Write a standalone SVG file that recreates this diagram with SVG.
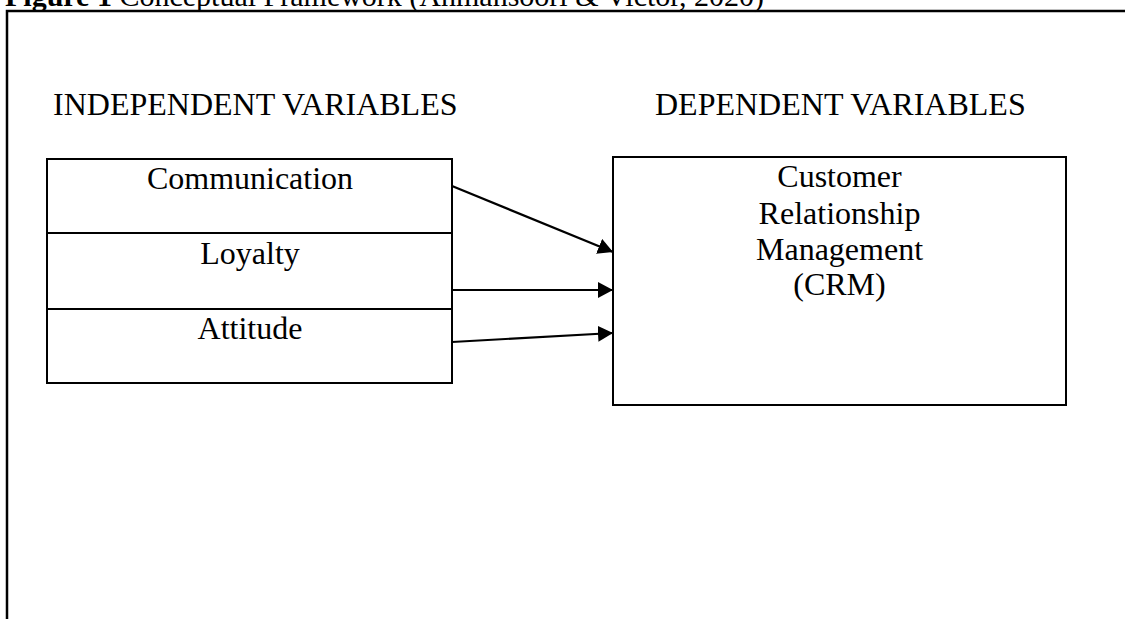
<svg xmlns="http://www.w3.org/2000/svg" width="1125" height="619" viewBox="0 0 1125 619">
<style>
text{font-family:"Liberation Serif","Times New Roman",serif;fill:#000;}
.t{font-size:32px;}
.c{text-anchor:middle;}
.box{fill:#fff;stroke:#000;stroke-width:2;}
.conn{stroke:#000;stroke-width:2.2;fill:none;marker-end:url(#ah);}
</style>
<defs>
<marker id="ah" markerUnits="userSpaceOnUse" markerWidth="16" markerHeight="16" refX="15" refY="8" orient="auto" viewBox="0 0 16 16">
<path d="M0,0 L15,8 L0,16 Z" fill="#000"/>
</marker>
</defs>
<rect width="1125" height="619" fill="#fff"/>
<text x="5" y="6" style="font-size:30px"><tspan font-weight="bold">Figure 1</tspan> Conceptual Framework (Ahmansoori &amp; Victor, 2020)</text>
<path d="M7,619 V11 H1125" fill="none" stroke="#000" stroke-width="2.5"/>
<text class="t" x="53" y="115">INDEPENDENT VARIABLES</text>
<text class="t" x="655" y="115">DEPENDENT VARIABLES</text>
<g id="independent">
<rect class="box" x="47" y="159" width="405" height="224"/>
<line x1="47" y1="233" x2="452" y2="233" stroke="#000" stroke-width="2"/>
<line x1="47" y1="309" x2="452" y2="309" stroke="#000" stroke-width="2"/>
</g>
<g id="communication"><text class="t c" x="250" y="189">Communication</text></g>
<g id="loyalty"><text class="t c" x="250" y="264">Loyalty</text></g>
<g id="attitude"><text class="t c" x="250" y="339">Attitude</text></g>
<g id="crm">
<rect class="box" x="613" y="157" width="453" height="248"/>
<text class="t c" x="839.5" y="187">Customer</text>
<text class="t c" x="839.5" y="224">Relationship</text>
<text class="t c" x="839.5" y="260">Management</text>
<text class="t c" x="839.5" y="295">(CRM)</text>
</g>
<g id="connectors">
<line class="conn" x1="452" y1="186" x2="613" y2="252"/>
<line class="conn" x1="452" y1="290" x2="613" y2="290"/>
<line class="conn" x1="452" y1="342" x2="613" y2="333"/>
</g>
</svg>
